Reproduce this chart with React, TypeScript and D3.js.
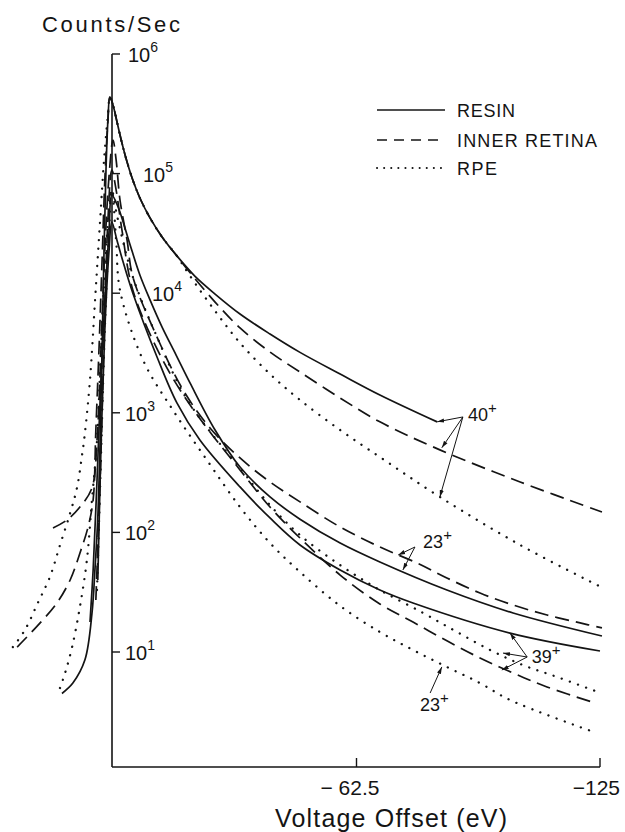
import React from 'react';
import * as d3 from 'd3';

type Pt = [number, number]; // [voltage offset (eV), counts/sec]

// ---- 40+ curves
const ca40Resin: Pt[] = [
  [13.1, 4.5], [10.3, 5.5], [7.2, 8.6], [5.4, 21], [4.6, 51], [3.9, 134], [3.3, 590],
  [2.8, 3350], [2.3, 23000], [1.8, 107000], [1.3, 280000], [0.8, 437000], [0, 375000],
  [-0.8, 292000], [-1.8, 210000], [-3.1, 143000], [-4.9, 91800], [-6.9, 62500],
  [-9.5, 42600], [-12.6, 29500], [-16.4, 20500], [-21, 13900], [-26.2, 9840],
  [-32.6, 6700], [-40.3, 4560], [-48, 3200], [-58.3, 2110], [-68.5, 1410], [-83.2, 840],
];
const ca40Retina: Pt[] = [
  [24.6, 11], [18.7, 17.5], [14.4, 25.7], [11, 40], [8.5, 67], [6.4, 111], [5.1, 187],
  [4.4, 720], [3.6, 3350], [2.8, 19000], [2.1, 88000], [1.3, 280000], [0.8, 437000],
  [0, 375000], [-0.8, 292000], [-1.8, 210000], [-3.1, 143000], [-4.9, 91800],
  [-6.9, 62500], [-9.5, 42600], [-12.6, 29500], [-16.4, 20500], [-19.8, 14800],
  [-26.2, 8430], [-32.6, 5120], [-40.3, 3220], [-48, 2190], [-58.3, 1330], [-68.5, 840],
  [-83.9, 490], [-104.5, 264], [-125.5, 148],
];
const ca40Rpe: Pt[] = [
  [25.7, 11], [22.6, 15.3], [19.3, 25.7], [16.2, 42.4], [13.6, 78.5], [11, 145], [9.2, 240],
  [8, 430], [7.2, 680], [5.9, 1900], [4.6, 8800], [3.3, 41000], [2.3, 130000],
  [1.3, 310000], [0.8, 437000], [0, 375000], [-0.8, 292000], [-1.8, 210000],
  [-3.1, 143000], [-4.9, 91800], [-6.9, 62500], [-9.5, 42600], [-12.6, 29500],
  [-16.4, 20500], [-19.8, 13900], [-26.2, 7100], [-32.6, 3840], [-40.3, 2110],
  [-48, 1280], [-58.3, 718], [-68.5, 427], [-83.9, 198], [-104.5, 78.5], [-124.5, 36],
];

// ---- 23+ curves
const na23Resin: Pt[] = [
  [5.9, 17.8], [5.1, 48.5], [4.1, 274], [3.1, 1880], [2.1, 8800], [1, 33700], [0.3, 66000],
  [-1.3, 52600], [-2.6, 39400], [-4.4, 25300], [-6.9, 14200], [-9.5, 8800], [-12.6, 5210],
  [-16.2, 3040], [-19.8, 1770], [-26.2, 718], [-32.6, 352], [-40.3, 198], [-48, 129],
  [-58.3, 81.5], [-68.5, 56.6], [-85.7, 33], [-102.7, 21.2], [-125.5, 13.6],
];
const na23Retina: Pt[] = [
  [15.4, 109], [11.8, 127], [8.5, 163], [5.4, 235], [4.1, 593], [3.1, 3350], [2.1, 23000],
  [1, 97000], [0, 191000], [-0.8, 130000], [-1.8, 60000], [-3.6, 27900], [-5.1, 13700],
  [-11.3, 4300], [-18, 1550], [-24.9, 747], [-32.6, 419], [-40.3, 264], [-48, 180],
  [-58.3, 111], [-68.5, 75.5], [-78, 55.5], [-85.7, 41.6], [-94.2, 31.1], [-102.7, 24.7],
  [-111.4, 20.4], [-119.9, 17.5], [-125.5, 15.9],
];
const na23Rpe: Pt[] = [
  [13.6, 5], [12.3, 6.67], [10.5, 11], [8.5, 23.8], [6.7, 58.8], [5.4, 187], [4.1, 593],
  [3.1, 3350], [2.1, 15600], [1, 49700], [0.3, 73000], [-0.8, 27900], [-1.8, 10600],
  [-7.7, 2760], [-15.4, 1050], [-24.1, 403], [-32.6, 163], [-40.3, 81.5], [-48, 46.7],
  [-58.3, 24.3], [-68.5, 14.7], [-77, 10.4], [-85.7, 7.5], [-94.2, 5.5], [-101.9, 3.97],
  [-124.2, 2.1],
];

// ---- 39+ curves
const k39Resin: Pt[] = [
  [3.9, 40], [3.1, 489], [2.1, 4920], [1, 23000], [0.3, 39400], [-1, 27900], [-2.6, 18200],
  [-5.1, 10000], [-11.3, 2930], [-16.4, 1210], [-22.3, 593], [-32.6, 240], [-40.3, 132],
  [-48, 78.5], [-58.3, 48.5], [-68.5, 33], [-77, 25.7], [-101.9, 14.4], [-125, 10.2],
];
const k39Retina: Pt[] = [
  [4.4, 27.2], [3.3, 274], [2.3, 4060], [1.3, 41000], [0.3, 107000], [-0.8, 73000],
  [-2.3, 33700], [-5.1, 10600], [-12.1, 3040], [-19.8, 1160], [-32.6, 333], [-40.3, 163],
  [-48, 89.7], [-58.3, 44], [-68.5, 25.2], [-77, 17.8], [-85.7, 12.4], [-94.2, 8.91],
  [-102.7, 6.67], [-111.4, 5.1], [-123.7, 3.75],
];
const k39Rpe: Pt[] = [
  [4.1, 33], [3.1, 403], [2.1, 4920], [1, 33700], [0.3, 73000], [-1, 45000], [-5.1, 13700],
  [-11.3, 4300], [-18, 1470], [-23.6, 791], [-32.6, 345], [-40.3, 169], [-48, 95],
  [-58.3, 53.3], [-68.5, 33], [-79.6, 21.2], [-88.3, 14.7], [-96.8, 10.4], [-105.2, 7.78],
  [-114, 6.18], [-124.5, 4.63],
];

// ---- axes, legend
const yTickValues = [1e6, 1e5, 1e4, 1e3, 1e2, 1e1];
const yTickExponents = ['6', '5', '4', '3', '2', '1'];
const xTickValues = [-62.5, -125];
const xTickLabels = ['\u2212 62.5', '\u2212125'];
const legendLabels = ['RESIN', 'INNER RETINA', 'RPE'];
const legendStyles = ['solid', 'dashed', 'dotted'];

// ---- ion labels with arrows (all in data units)
const ionLabels = [
  { ion: '40', at: [-91.1, 853] as Pt, from: [-89.8, 923] as Pt, to: [[-83.2, 840], [-84.4, 510], [-83.9, 198]] as Pt[] },
  { ion: '23', at: [-79.6, 74] as Pt, from: [-77.5, 75.5] as Pt, to: [[-73.2, 64.7], [-74.4, 48.5]] as Pt[] },
  { ion: '39', at: [-107.5, 8.1] as Pt, from: [-106.3, 9.08] as Pt, to: [[-101.9, 14.4], [-100.1, 9.8], [-99.8, 7.07]] as Pt[] },
  { ion: '23', at: [-78.8, 3.2] as Pt, from: [-81.4, 4.54] as Pt, to: [[-84.4, 7.5]] as Pt[] },
];

const series = [
  { pts: ca40Resin, style: 'solid' },
  { pts: ca40Retina, style: 'dashed' },
  { pts: ca40Rpe, style: 'dotted' },
  { pts: na23Resin, style: 'solid' },
  { pts: na23Retina, style: 'dashed' },
  { pts: na23Rpe, style: 'dotted' },
  { pts: k39Resin, style: 'solid' },
  { pts: k39Retina, style: 'dashed' },
  { pts: k39Rpe, style: 'dotted' },
];

const W = 625;
const H = 832;
const font = "'Liberation Sans', Arial, Helvetica, sans-serif";
const ink = '#141414';

const strokeFor = (style: string) => {
  if (style === 'dashed') return { strokeDasharray: '14 7', strokeWidth: 1.7 };
  if (style === 'dotted') return { strokeDasharray: '0.1 8.5', strokeWidth: 2.3, strokeLinecap: 'round' as const };
  return { strokeWidth: 1.7 };
};

export default function App() {
  const x = d3.scaleLinear().domain([0, -125]).range([113, 600]);
  const y = d3.scaleLog().domain([10, 1e6]).range([652, 54]);
  const axisX = 112;
  const axisY = 767;

  const line = d3
    .line<Pt>()
    .x((d) => x(d[0]))
    .y((d) => y(d[1]))
    .curve(d3.curveCatmullRom.alpha(0.5));

  // label x shift from the axis, per tick (labels dodge the curves)
  const labelShift = [16, 31, 40, 13, 13, 13];

  return (
    <svg
      width={W}
      height={H}
      style={{ position: 'absolute', left: 0, top: 0, background: '#fff' }}
      fontFamily={font}
    >
      <defs>
        <marker id="ah" viewBox="0 0 10 10" refX="10" refY="5" markerWidth="7" markerHeight="7" orient="auto">
          <path d="M0,2 L10,5 L0,8 z" fill={ink} />
        </marker>
      </defs>
      <rect width={W} height={H} fill="#fff" />

      {/* axes */}
      <line x1={axisX} x2={axisX} y1={y(1e6)} y2={axisY} stroke={ink} strokeWidth={1.6} />
      <line x1={axisX} x2={x(-125)} y1={axisY} y2={axisY} stroke={ink} strokeWidth={1.6} />
      {yTickValues.map((v, i) => (
        <g key={v}>
          <line x1={axisX} x2={axisX + 8} y1={y(v)} y2={y(v)} stroke={ink} strokeWidth={1.4} />
          <text x={axisX + labelShift[i]} y={y(v) + 8} fontSize={20} fill={ink}>
            10
            <tspan dy={-10} fontSize={14}>{yTickExponents[i]}</tspan>
          </text>
        </g>
      ))}
      {xTickValues.map((v, i) => (
        <g key={v}>
          <line x1={x(v)} x2={x(v)} y1={axisY} y2={axisY - 9} stroke={ink} strokeWidth={1.4} />
          <text x={x(v) + (i === 0 ? 23 : 20)} y={795} fontSize={21} textAnchor="end" fill={ink}>
            {xTickLabels[i]}
          </text>
        </g>
      ))}
      <text x={42} y={32} fontSize={22} fill={ink} textLength={138} lengthAdjust="spacing">
        Counts/Sec
      </text>
      <text x={275} y={827} fontSize={25} fill={ink} textLength={232} lengthAdjust="spacing">
        Voltage Offset (eV)
      </text>

      {/* curves */}
      {series.map((s, i) => (
        <path key={i} d={line(s.pts) || ''} fill="none" stroke={ink} {...strokeFor(s.style)} />
      ))}

      {/* legend */}
      {legendLabels.map((lab, i) => {
        const ly = [110, 140, 168][i];
        const st = legendStyles[i];
        const sk =
          st === 'dashed'
            ? { strokeDasharray: '10 7', strokeWidth: 1.6 }
            : st === 'dotted'
            ? { strokeDasharray: '0.1 7', strokeWidth: 2, strokeLinecap: 'round' as const }
            : { strokeWidth: 1.6 };
        return (
          <g key={lab}>
            <line x1={377} x2={445} y1={ly} y2={ly} stroke={ink} {...sk} />
            <text
              x={457}
              y={ly + 7}
              fontSize={18}
              fill={ink}
              textLength={[58, 140, 40][i]}
              lengthAdjust="spacing"
            >
              {lab}
            </text>
          </g>
        );
      })}

      {/* ion labels */}
      {ionLabels.map((a, i) => (
        <g key={i}>
          {a.to.map((t, j) => (
            <line
              key={j}
              x1={x(a.from[0])}
              y1={y(a.from[1])}
              x2={x(t[0])}
              y2={y(t[1])}
              stroke={ink}
              strokeWidth={1}
              markerEnd="url(#ah)"
            />
          ))}
          <text x={x(a.at[0])} y={y(a.at[1])} fontSize={18} fill={ink}>
            {a.ion}
            <tspan dy={-8} fontSize={15}>+</tspan>
          </text>
        </g>
      ))}
    </svg>
  );
}
